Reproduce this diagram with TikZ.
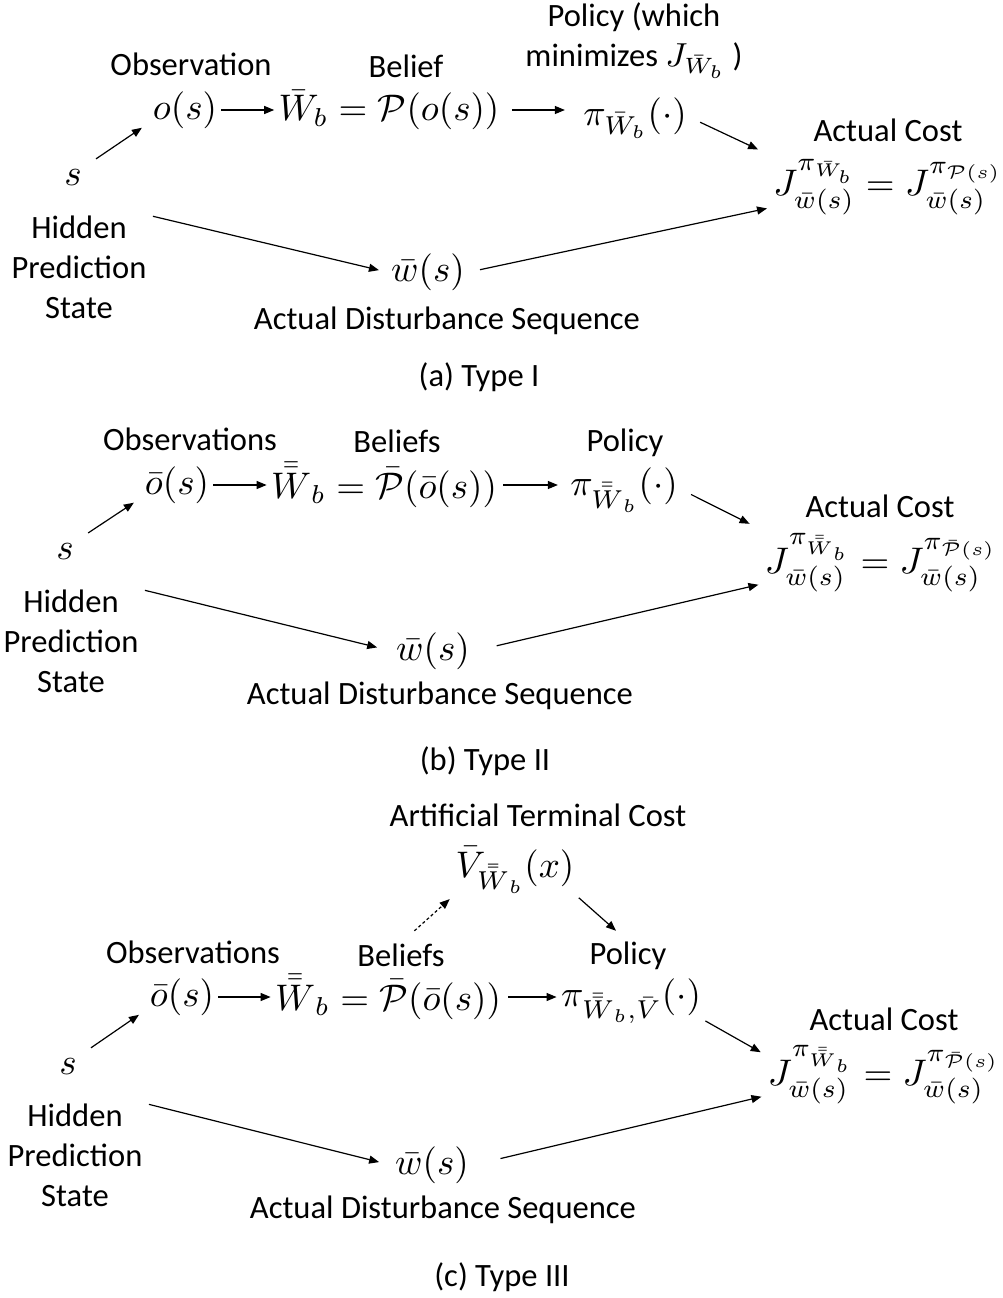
\documentclass[tikz,border=0pt]{standalone}
\usepackage{fontspec}
\newfontfamily\lblfont{Carlito}
\usetikzlibrary{arrows.meta}

\def\scale{3.7}
\tikzset{
  lbl/.style={font=\lblfont\fontsize{8.8}{10.8}\selectfont, align=center, inner sep=0pt},
  mth/.style={inner sep=1pt},
  arr/.style={-{Triangle[length=10pt,width=8pt]}, line width=1.2pt},
  dasharr/.style={arr, dash pattern=on 3pt off 2.5pt}
}

\begin{document}
\begin{tikzpicture}[x=1pt, y=-1pt, every node/.style={scale=\scale}]
      \useasboundingbox (0,0) rectangle (1003,1298);
      % (a)
      \node[lbl] (obsA) at (191,64) {Observation};
      \node[mth] (oA) at (185,110) {$o(s)$};
      \node[lbl] (belA) at (406,66) {Belief};
      \node[mth] (wA) at (389,110) {$\bar W_b=\mathcal{P}(o(s))$};
      \node[lbl] (polA) at (634,41) {Policy (which\\minimizes $J_{\bar W_b}$ )};
      \node[mth] (piA) at (635,118) {$\pi_{\bar W_b}(\cdot)$};
      \node[lbl] (costA) at (888,130) {Actual Cost};
      \node[mth] (jA) at (888,187) {$J^{\pi_{\bar W_b}}_{\bar w(s)}=J^{\pi_{\mathcal{P}(s)}}_{\bar w(s)}$};
      \node[mth] (sA) at (73,178) {$s$};
      \node[lbl] (hidA) at (79,267) {Hidden\\Prediction\\State};
      \node[mth] (dA) at (428,272) {$\bar w(s)$};
      \node[lbl] (disA) at (447,321) {Actual Disturbance Sequence};
      \node[lbl] (capA) at (479,377) {(a) Type I};
      \draw[arr, shorten <=12pt, shorten >=8pt] (sA.north east) -- (oA.200);
      \draw[arr] (oA.east) -- (oA.east -| wA.west);
      \draw[arr, shorten <=8pt, shorten >=14pt] (wA.east) -- (wA.east -| piA.west);
      \draw[arr, shorten <=10pt, shorten >=12pt] (piA.east) -- (jA.north west);
      \draw[arr, shorten <=6pt, shorten >=8pt] (hidA.north east) -- (dA.west);
      \draw[arr, shorten <=11pt, shorten >=2pt] (dA.east) -- (jA.190);
      % (b)
      \node[lbl] (obsB) at (190,439) {Observations};
      \node[mth] (oB) at (177,485) {$\bar o(s)$};
      \node[lbl] (belB) at (397,441) {Beliefs};
      \node[mth] (wB) at (384,485) {$\bar{\bar W}_b=\bar{\mathcal{P}}(\bar o(s))$};
      \node[lbl] (polB) at (625,443) {Policy};
      \node[mth] (piB) at (624,490) {$\pi_{\bar{\bar W}_b}(\cdot)$};
      \node[lbl] (costB) at (880,506) {Actual Cost};
      \node[mth] (jB) at (881,563) {$J^{\pi_{\bar{\bar W}_b}}_{\bar w(s)}=J^{\pi_{\bar{\mathcal{P}}(s)}}_{\bar w(s)}$};
      \node[mth] (sB) at (65,552) {$s$};
      \node[lbl] (hidB) at (71,641) {Hidden\\Prediction\\State};
      \node[mth] (dB) at (433,651) {$\bar w(s)$};
      \node[lbl] (disB) at (440,696) {Actual Disturbance Sequence};
      \node[lbl] (capB) at (485,761) {(b) Type II};
      \draw[arr, shorten <=12pt, shorten >=8pt] (sB.north east) -- (oB.200);
      \draw[arr] (oB.east) -- (oB.east -| wB.west);
      \draw[arr, shorten <=2pt, shorten >=8pt] (wB.east) -- (wB.east -| piB.west);
      \draw[arr, shorten <=10pt, shorten >=12pt] (piB.east) -- (jB.north west);
      \draw[arr, shorten <=6pt, shorten >=15pt] (hidB.north east) -- (dB.west);
      \draw[arr, shorten <=23pt, shorten >=2pt] (dB.east) -- (jB.190);
      % (c)
      \node[lbl] (artC) at (538,815) {Artificial Terminal Cost};
      \node[mth] (vC) at (515,870) {$\bar V_{\bar{\bar W}_b}(x)$};
      \node[lbl] (obsC) at (193,952) {Observations};
      \node[mth] (oC) at (182,997) {$\bar o(s)$};
      \node[lbl] (belC) at (401,955) {Beliefs};
      \node[mth] (wC) at (388,997) {$\bar{\bar W}_b=\bar{\mathcal{P}}(\bar o(s))$};
      \node[lbl] (polC) at (628,956) {Policy};
      \node[mth] (piC) at (631,1001) {$\pi_{\bar{\bar W}_b,\bar V}(\cdot)$};
      \node[lbl] (costC) at (884,1019) {Actual Cost};
      \node[mth] (jC) at (884,1075) {$J^{\pi_{\bar{\bar W}_b}}_{\bar w(s)}=J^{\pi_{\bar{\mathcal{P}}(s)}}_{\bar w(s)}$};
      \node[mth] (sC) at (68,1067) {$s$};
      \node[lbl] (hidC) at (75,1155) {Hidden\\Prediction\\State};
      \node[mth] (dC) at (432,1165) {$\bar w(s)$};
      \node[lbl] (disC) at (443,1210) {Actual Disturbance Sequence};
      \node[lbl] (capC) at (502,1277) {(c) Type III};
      \draw[dasharr, shorten <=18pt, shorten >=2pt] (belC.north) -- (vC.south west);
      \draw[arr, shorten <=0pt, shorten >=16pt] (vC.south east) -- (polC.north);
      \draw[arr, shorten <=12pt, shorten >=8pt] (sC.north east) -- (oC.200);
      \draw[arr] (oC.east) -- (oC.east -| wC.west);
      \draw[arr, shorten <=3pt, shorten >=0pt] (wC.east) -- (wC.east -| piC.west);
      \draw[arr, shorten <=0pt, shorten >=3pt] (piC.-15) -- (jC.170);
      \draw[arr, shorten <=6pt, shorten >=12pt] (hidC.north east) -- (dC.west);
      \draw[arr, shorten <=28pt, shorten >=2pt] (dC.east) -- (jC.190);
\end{tikzpicture}
\end{document}
